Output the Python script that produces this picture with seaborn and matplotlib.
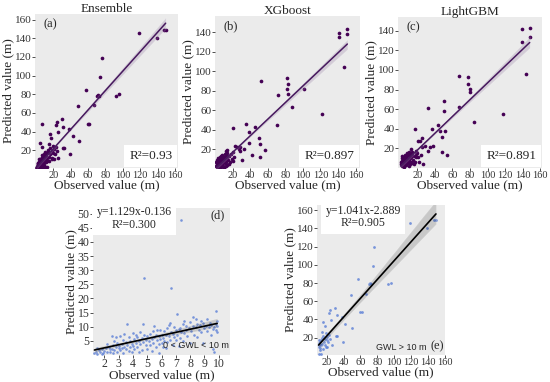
import seaborn as sns
import matplotlib.pyplot as plt

# 0 < GWL < 10 m  (panel d)
d_obs = [1.3, 1.4, 1.5, 1.6, 1.7, 1.8, 1.9, 2.0, 1.5, 1.8,
         2.1, 2.2, 2.3, 2.4, 2.5, 2.5, 2.6, 2.7, 2.8, 2.9, 2.9, 3.0, 2.2, 2.6, 2.8, 3.0, 2.4, 2.7,
         3.1, 3.1, 3.2, 3.2, 3.3, 3.3, 3.4, 3.5, 3.5, 3.6, 3.6, 3.7, 3.7, 3.8, 3.8, 3.9, 4.0, 4.0, 3.4, 3.9,
         4.1, 4.1, 4.2, 4.3, 4.3, 4.4, 4.5, 4.5, 4.6, 4.6, 4.7, 4.7, 4.8, 4.8, 4.9, 4.9, 5.0, 5.0, 4.4, 4.2,
         5.1, 5.2, 5.2, 5.3, 5.4, 5.4, 5.5, 5.6, 5.6, 5.7, 5.7, 5.8, 5.8, 5.9, 5.9, 6.0, 6.0, 5.3, 5.5, 5.8,
         6.1, 6.1, 6.2, 6.2, 6.3, 6.4, 6.4, 6.5, 6.5, 6.6, 6.7, 6.7, 6.8, 6.8, 6.9, 6.9, 7.0, 7.0, 6.3, 6.6,
         7.1, 7.1, 7.2, 7.3, 7.3, 7.4, 7.4, 7.5, 7.5, 7.6, 7.7, 7.7, 7.8, 7.9, 8.0, 8.0, 7.2, 7.6,
         8.1, 8.2, 8.2, 8.3, 8.4, 8.5, 8.5, 8.6, 8.7, 8.75, 8.8, 8.9, 8.9, 9.0, 8.4,
         9.1, 9.2, 9.2, 9.3, 9.4, 9.5, 9.5, 9.6, 9.6, 9.7, 9.7, 9.8, 9.8, 9.85, 9.9, 9.9, 9.9]
d_pred = [0.8, 1.2, 0.5, 1.6, 1.0, 2.0, 0.7, 1.5, 2.3, 0.4,
          2.5, 1.1, 3.0, 0.9, 6.8, 2.0, 3.5, 1.6, 2.8, 4.2, 1.0, 2.4, 3.8, 0.6, 6.5, 3.3, 2.2, 4.8,
          6.8, 1.8, 3.9, 2.6, 5.2, 0.8, 3.0, 4.5, 2.1, 11.0, 3.6, 6.2, 1.4, 5.0, 2.8, 4.0, 7.7, 3.2, 7.5, 1.2,
          5.6, 2.2, 4.4, 6.5, 3.0, 5.0, 8.0, 3.8, 1.8, 6.0, 11.0, 4.6, 27.4, 7.0, 3.4, 5.4, 2.0, 6.8, 0.9, 7.2,
          4.8, 7.4, 3.6, 5.8, 8.5, 4.2, 6.4, 2.8, 7.0, 8.9, 5.2, 6.6, 3.8, 9.0, 5.6, 7.2, 4.4, 1.5, 10.2, 0.8,
          6.0, 3.0, 8.4, 5.0, 7.0, 9.5, 4.6, 6.6, 10.6, 5.4, 23.8, 8.0, 7.4, 3.6, 10.0, 6.2, 8.8, 5.4, 2.4, 11.4,
          14.4, 7.0, 9.2, 9.5, 6.0, 47.7, 8.2, 10.8, 5.0, 7.8, 10.3, 8.8, 6.6, 9.6, 4.2, 11.6, 3.2, 12.0,
          8.4, 13.4, 10.2, 7.2, 9.8, 11.0, 6.4, 9.0, 10.6, 12.2, 8.0, 4.2, 11.4, 9.6, 12.8,
          10.4, 8.6, 12.6, 9.8, 11.2, 7.0, 10.6, 2.0, 9.2, 10.0, 1.2, 15.6, 11.0, 9.0, 10.4, 8.0, 12.0]

# GWL > 10 m  (panel e)
e_obs = [149.3, 147.4, 139, 119, 76, 74.3, 57.5, 70.5, 71.6, 72.8, 92, 95.9, 48.5, 67,
         59.7, 61.6, 29.5, 23.1, 31.7, 38, 42.2, 50, 39, 31.3, 32.8,
         15.7, 17.5, 14.6, 19.4, 20.5, 24.3, 25,
         10.5, 11, 11.5, 12, 12.5, 13, 13.5, 14, 15, 15.5, 16, 16.5, 18, 18.5, 19,
         20, 21, 22, 23, 24, 10.8, 13, 11, 12, 26]
e_pred = [149, 149, 140.7, 145.5, 119, 99, 84.4, 78.6, 79.7, 78.6, 78.6, 80.4, 66.9, 68,
          48.6, 48.6, 53, 46.8, 45, 42.4, 35, 30.3, 15.7, 21.9, 21.9,
          37.6, 32.9, 26.7, 24.9, 10.2, 50.4, 39.5,
          12, 10, 14, 16.5, 9, 11.5, 18, 20, 13, 8, 22, 15.7, 12, 19, 10.2,
          17, 21.2, 15.7, 23, 19, 2.2, 2.2, 18, 7, 12]

# XGboost  (panel b)
b_obs = [150, 141.5, 141.5, 150.6, 146.8, 121.5, 101, 81.7, 83, 82, 83, 87.4, 71.5, 70,
         52.6, 45.8, 39, 35, 20.4, 50, 57, 50.7, 38.6, 42, 51.5, 30.6, 27, 28.7, 32.5, 28,
         13.6, 23, 21, 25,
         1.5, 2, 2.5, 3, 3.5, 4, 4.5, 5, 5.5, 6, 6.5, 7, 7.5, 8, 8.5, 9, 9.5, 10, 10.5, 11,
         11.5, 12, 12.5, 13, 13.5, 14, 15, 16, 17, 18, 2, 3, 4, 6, 8, 10, 12, 14, 16, 19,
         20, 22, 5, 7, 9, 11, 13, 1, 3]
b_pred = [143, 139, 135, 138, 104.5, 56, 81.5, 92.6, 87, 82, 77, 63, 75.7, 45,
          89.6, 43, 38, 46, 41.6, 31.4, 19, 26, 27, 14, 12, 8.8, 20.6, 22, 20.6, 18,
          19, 24, 7.8, 22,
          3, 5, 2, 6, 4, 8, 3, 6, 10, 4, 7, 2, 9, 5, 11, 7, 3, 8, 12, 6,
          9, 14, 7, 10, 4, 12, 9, 13, 7, 15, 9, 11, 2, 12, 14, 1.5, 3, 16, 5, 10,
          17, 12, 1, 13, 10, 15, 18, 7, 1.5]

# LightGBM  (panel c)
c_obs = [148, 139, 139, 148, 143.7, 118, 78, 78, 79.5, 80, 68, 67.7, 84,
         32, 50, 50, 43, 46, 36.5, 17.5, 51.7, 48, 53.6, 48, 34.6, 25, 23, 27, 22,
         21, 25, 29, 38, 24.3, 32, 18.6, 21.3,
         1.5, 2, 2.5, 3, 3.5, 4, 4.5, 5, 5.5, 6, 6.5, 7, 7.5, 8, 8.5, 9, 9.5, 10, 10.5, 11,
         11.5, 12, 12.5, 13, 13.5, 14, 15, 16, 17, 18, 2, 3, 4, 6, 8, 10, 12, 14, 16, 19,
         20, 5, 7, 9, 11, 13, 1, 3]
c_pred = [142.6, 141.6, 129, 134, 96, 54.7, 93, 86, 81, 78, 93.6, 62.5, 47,
          61.5, 68, 58, 43.6, 37.8, 39.5, 40, 37.8, 31.7, 13, 15.9, 21, 21, 28, 4, 5.7,
          27.7, 31, 22.6, 22.6, 13, 17.6, 17.6, 10.8,
          4, 6, 3, 7, 5, 9, 2, 6, 11, 4, 8, 3, 10, 6, 12, 5, 8, 9, 13, 7,
          10, 14, 6, 11, 5, 13, 8, 12, 6, 14, 10, 12, 2, 13, 15, 2, 4, 16, 4, 11,
          15, 1.5, 12, 14, 16, 19, 6, 2]

# Ensemble = both GWL groups together
a_obs = d_obs + e_obs
a_pred = d_pred + e_pred

x_ticks_big = [20, 40, 60, 80, 100, 120, 140, 160]

sns.set_style('dark', {'axes.facecolor': '#EBEBEB'})
plt.rcParams['font.family'] = ['Liberation Serif', 'DejaVu Serif']

fig = plt.figure(figsize=(5.5, 3.82), dpi=100)
W, H = 550, 382


def box(l, t, r, b):
    return [l / W, 1 - b / H, (r - l) / W, (b - t) / H]


def style(ax, xlim, ylim, xt, yt, fx=7.5, fy=8):
    ax.set_xlim(*xlim)
    ax.set_ylim(*ylim)
    ax.set_xticks(xt)
    ax.set_yticks(yt)
    ax.tick_params(length=2, width=0.6, colors='#333333', pad=0.5,
                   bottom=True, left=True)
    ax.tick_params(axis='x', labelsize=fx)
    ax.tick_params(axis='y', labelsize=fy)
    for s in ax.spines.values():
        s.set_visible(False)
    ax.set_xlabel('Observed value (m)', fontsize=9.5, labelpad=-0.5)
    ax.set_ylabel('Predicted value (m)', fontsize=9.5, labelpad=0)


purple = '#440154'
line_p = '#47195e'
top = [
    ('Ensemble', '(a)', a_obs, a_pred, (35, 14, 178, 168), (-1, 163.5), (1, 166),
     [20, 40, 60, 80, 100, 120, 140, 160], 'R²=0.93', 68),
    ('XGboost', '(b)', b_obs, b_pred, (215, 16, 360, 168), (0, 165), (1, 156.5),
     [20, 40, 60, 80, 100, 120, 140], 'R²=0.897', 50),
    ('LightGBM', '(c)', c_obs, c_pred, (398, 17, 542, 168), (-2, 162), (0, 154),
     [20, 40, 60, 80, 100, 120, 140], 'R²=0.891', 50),
]

for title, tag, xo, yp, pos, xl, yl, yt, r2, ci in top:
    ax = fig.add_axes(box(*pos))
    sns.regplot(x=xo, y=yp, ax=ax, ci=ci,
                scatter_kws=dict(s=7, color=purple, linewidths=0, alpha=1),
                line_kws=dict(color=line_p, lw=1.1))
    style(ax, xl, yl, x_ticks_big, yt)
    ax.set_title(title, fontsize=9.5, pad=1.5)
    ax.text(0.06, 0.97, tag, transform=ax.transAxes, ha='left', va='top', fontsize=9)
    ax.text(0.96, 0.04, r2, transform=ax.transAxes, ha='right', va='bottom', fontsize=9.5,
            bbox=dict(fc='white', ec='none', pad=3.5))

blue = '#5b7fd6'

# panel d
ax = fig.add_axes(box(93, 208, 230, 355))
sns.regplot(x=d_obs, y=d_pred, ax=ax, ci=95,
            scatter_kws=dict(s=3.5, color=blue, linewidths=0, alpha=0.8),
            line_kws=dict(color='black', lw=1.2))
style(ax, (1.2, 10.8), (0, 52), [2, 3, 4, 5, 6, 7, 8, 9, 10],
      [5, 10, 15, 20, 25, 30, 35, 40, 45, 50], fx=8.5, fy=8.5)
ax.text(0.30, 0.93, 'y=1.129x-0.136\nR²=0.300', transform=ax.transAxes, ha='center',
        va='center', fontsize=8.5, linespacing=1.1,
        bbox=dict(fc='white', ec='none', pad=3))
ax.text(0.96, 0.95, '(d)', transform=ax.transAxes, ha='right', va='center', fontsize=9)
ax.text(0.99, 0.035, '0 < GWL < 10 m', transform=ax.transAxes, ha='right', va='bottom',
        fontsize=6.5, family=['Liberation Sans', 'DejaVu Sans'], color='#222222')

# panel e
ax = fig.add_axes(box(317, 205, 445, 355))
sns.regplot(x=e_obs, y=e_pred, ax=ax, ci=95,
            scatter_kws=dict(s=4, color=blue, linewidths=0, alpha=0.8),
            line_kws=dict(color='black', lw=1.2))
style(ax, (8.6, 152), (1, 165.6), x_ticks_big, [20, 40, 60, 80, 100, 120, 140, 160])
ax.text(0.36, 0.92, 'y=1.041x-2.889\nR²=0.905', transform=ax.transAxes, ha='center',
        va='center', fontsize=8.5, linespacing=1.1,
        bbox=dict(fc='white', ec='none', pad=3))
ax.text(0.66, 0.05, 'GWL > 10 m', transform=ax.transAxes, ha='center', va='center',
        fontsize=6.5, family=['Liberation Sans', 'DejaVu Sans'], color='#222222')
ax.text(0.94, 0.06, '(e)', transform=ax.transAxes, ha='center', va='center', fontsize=9)

fig.savefig('out.png', dpi=100, facecolor='white')
